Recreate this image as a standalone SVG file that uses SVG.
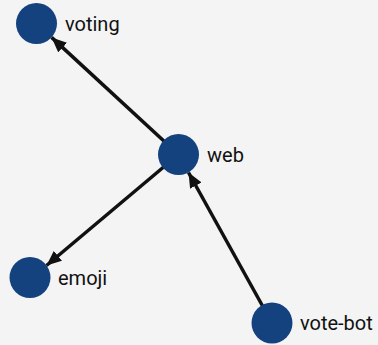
<svg xmlns="http://www.w3.org/2000/svg" width="378" height="345" viewBox="0 0 378 345">
<style>
.node{fill:#13427f}
.lbl{font-family:Roboto,"Liberation Sans",sans-serif;font-size:20px;fill:#111}
.edge{stroke:#111;stroke-width:3.5;fill:none}
</style>
<defs>
<marker id="arr" markerUnits="userSpaceOnUse" viewBox="0 0 15 13" refX="15" refY="6.5" markerWidth="15" markerHeight="13" orient="auto">
<path d="M0,0 L15,6.5 L0,13 Z" fill="#111"/>
</marker>
</defs>
<rect width="378" height="345" fill="#f4f4f4"/>
<g id="edges">
<line class="edge" x1="178.5" y1="154.5" x2="51.6" y2="37.4" marker-end="url(#arr)"/>
<line class="edge" x1="178.5" y1="154.5" x2="46.5" y2="265.5" marker-end="url(#arr)"/>
<line class="edge" x1="272" y1="323" x2="188.5" y2="172.5" marker-end="url(#arr)"/>
</g>
<g id="voting"><circle class="node" cx="36.5" cy="23.5" r="20.5"/><text class="lbl" x="65" y="30.5">voting</text></g>
<g id="web"><circle class="node" cx="178.5" cy="154.5" r="20.5"/><text class="lbl" x="207" y="161.5">web</text></g>
<g id="emoji"><circle class="node" cx="30" cy="277.5" r="20.5"/><text class="lbl" x="58" y="284.5">emoji</text></g>
<g id="vote-bot"><circle class="node" cx="272" cy="323" r="20.5"/><text class="lbl" x="300" y="330">vote-bot</text></g>
</svg>
